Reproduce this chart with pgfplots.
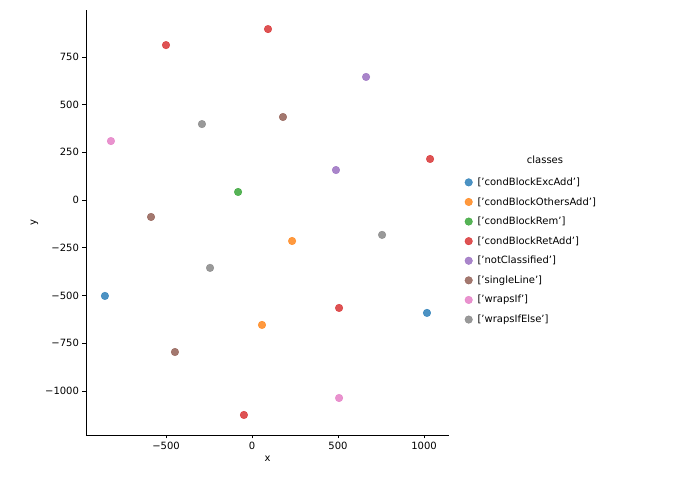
\documentclass[border=0pt]{standalone}
\usepackage{pgfplots}
\pgfplotsset{compat=1.18}
\usepackage{fontspec}
\setmainfont{DejaVu Sans}
\definecolor{c0}{HTML}{1F77B4}\definecolor{c1}{HTML}{FF7F0E}\definecolor{c2}{HTML}{2CA02C}\definecolor{c3}{HTML}{D62728}
\definecolor{c4}{HTML}{9467BD}\definecolor{c5}{HTML}{8C564B}\definecolor{c6}{HTML}{E377C2}\definecolor{c7}{HTML}{7F7F7F}
\begin{document}
\begin{tikzpicture}[x=1pt,y=1pt]
\useasboundingbox (-86,-54) rectangle (587,435);
\begin{axis}[at={(0,0)},anchor=south west,scale only axis,width=363pt,height=425pt,
 xmin=-965,xmax=1145,ymin=-1232,ymax=996,
 axis x line*=bottom, axis y line*=left, axis line style={-},
 xtick={-500,0,500,1000}, xticklabels={−500,0,500,1000},
 ytick={-1000,-750,-500,-250,0,250,500,750}, yticklabels={−1000,−750,−500,−250,0,250,500,750},
 tick align=outside, tick style={black,thin}, major tick length=3.5pt,
 xlabel={x}, ylabel={y}, ticklabel style={font=\fontsize{10}{12}\selectfont}, label style={font=\fontsize{10}{12}\selectfont},
 legend style={draw=none,fill=none,at={(1.035,0.615)},anchor=north west,font=\fontsize{10}{12}\selectfont,row sep=6.5pt,nodes={inner xsep=5pt}},
 legend cell align=left,
 every axis plot/.append style={only marks,mark=*,mark size=3.8pt,mark options={opacity=0.8,draw opacity=0.8}}]
\addplot[c0,fill=c0] coordinates {(-855,-503)(1017,-592)};
\addlegendentry{['condBlockExcAdd']}
\addplot[c1,fill=c1] coordinates {(233,-215)(58,-655)};
\addlegendentry{['condBlockOthersAdd']}
\addplot[c2,fill=c2] coordinates {(-81,42)};
\addlegendentry{['condBlockRem']}
\addplot[c3,fill=c3] coordinates {(-500,812)(93,896)(1035,215)(506,-566)(-47,-1127)};
\addlegendentry{['condBlockRetAdd']}
\addplot[c4,fill=c4] coordinates {(663,645)(488,157)};
\addlegendentry{['notClassified']}
\addplot[c5,fill=c5] coordinates {(180,435)(-587,-89)(-448,-797)};
\addlegendentry{['singleLine']}
\addplot[c6,fill=c6] coordinates {(-820,309)(506,-1038)};
\addlegendentry{['wrapsIf']}
\addplot[c7,fill=c7] coordinates {(-291,398)(756,-183)(-244,-356)};
\addlegendentry{['wrapsIfElse']}
\end{axis}
\node[font=\fontsize{10}{12}\selectfont] at (459,275) {classes};
\end{tikzpicture}
\end{document}
